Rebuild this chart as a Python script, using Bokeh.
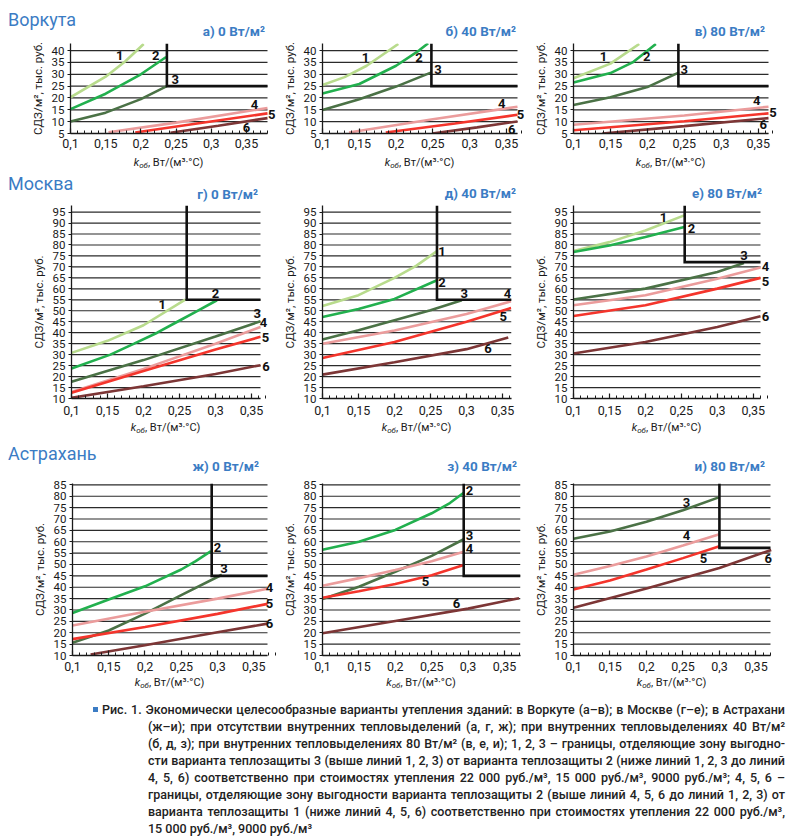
from bokeh.plotting import figure
from bokeh.models import Range1d, FixedTicker, CustomJSTickFormatter, Label, Div
from bokeh.layouts import column, row
from bokeh.embed import file_html
from bokeh.resources import INLINE

# ---------------- data ----------------
XTICKS = [0.1, 0.15, 0.2, 0.25, 0.3, 0.35]
YTICKS_VORKUTA = [5, 10, 15, 20, 25, 30, 35, 40]
YTICKS_MOSCOW = list(range(10, 100, 5))
YTICKS_ASTRAKHAN = list(range(10, 90, 5))

CITIES = ["Воркута", "Москва", "Астрахань"]
TITLES = ["а) 0 Вт/м²", "б) 40 Вт/м²", "в) 80 Вт/м²",
          "г) 0 Вт/м²", "д) 40 Вт/м²", "е) 80 Вт/м²",
          "ж) 0 Вт/м²", "з) 40 Вт/м²", "и) 80 Вт/м²"]

# Воркута, 0 Вт/м2
a_x = {1: [0.1, 0.15, 0.178, 0.204], 2: [0.1, 0.15, 0.2, 0.236], 3: [0.1, 0.15, 0.2, 0.237],
       4: [0.154, 0.25, 0.38], 5: [0.192, 0.28, 0.38], 6: [0.242, 0.31, 0.38]}
a_y = {1: [20.3, 29.0, 35.5, 42.8], 2: [15.3, 21.8, 30.0, 37.3], 3: [10.1, 13.8, 19.5, 25.0],
       4: [5.5, 9.6, 15.8], 5: [5.4, 9.2, 13.5], 6: [5.3, 8.3, 11.5]}
a_bound = (0.237, 25)
a_lab = {1: (0.17, 37.8), 2: (0.221, 37.8), 3: (0.249, 28), 4: (0.3615, 17.1), 5: (0.386, 13.2), 6: (0.35, 7.6)}

# Воркута, 40 Вт/м2
b_x = {1: [0.1, 0.13, 0.16, 0.203], 2: [0.1, 0.15, 0.2, 0.231, 0.2436], 3: [0.1, 0.15, 0.2, 0.248],
       4: [0.136, 0.25, 0.365], 5: [0.186, 0.28, 0.365], 6: [0.249, 0.31, 0.365]}
b_y = {1: [25.5, 28.8, 33.6, 42.8], 2: [21.9, 25.9, 33.6, 40.0, 43.1], 3: [14.9, 19.5, 24.8, 30.8],
       4: [5.4, 11.0, 16.3], 5: [5.4, 9.2, 12.9], 6: [5.0, 7.6, 10.1]}
b_bound = (0.248, 25)
b_lab = {1: (0.1585, 37.2), 2: (0.231, 37.2), 3: (0.257, 32.2), 4: (0.3435, 17.8), 5: (0.369, 13.2), 6: (0.357, 6.8)}

# Воркута, 80 Вт/м2
c_x = {1: [0.1, 0.15, 0.189], 2: [0.1, 0.15, 0.18, 0.2115], 3: [0.1, 0.15, 0.2, 0.243],
       4: [0.1, 0.25, 0.364], 5: [0.1, 0.25, 0.364], 6: [0.139, 0.25, 0.364]}
c_y = {1: [28.3, 34.5, 42.8], 2: [26.5, 30.5, 35.0, 42.8], 3: [17.0, 20.3, 24.6, 30.8],
       4: [8.7, 12.6, 16.3], 5: [6.4, 10.2, 13.5], 6: [5.0, 8.1, 11.5]}
c_bound = (0.242, 25)
c_lab = {1: (0.1406, 37.5), 2: (0.199, 37.5), 3: (0.25, 32.2), 4: (0.348, 18.8), 5: (0.37, 13.9), 6: (0.357, 8.7)}

# Москва, 0 Вт/м2
d_x = {1: [0.1, 0.15, 0.2, 0.258], 2: [0.1, 0.154, 0.187, 0.219, 0.247, 0.275, 0.302],
       3: [0.1, 0.2, 0.3, 0.3625], 4: [0.1, 0.2, 0.3, 0.3625], 5: [0.1, 0.2, 0.3, 0.3625], 6: [0.1, 0.2, 0.3, 0.3625]}
d_y = {1: [30.8, 36.3, 43.4, 55.1], 2: [23.7, 30.0, 35.0, 40.0, 45.0, 50.0, 54.8],
       3: [17.6, 27.5, 38.3, 45.2], 4: [13.0, 23.5, 35.0, 42.6], 5: [12.6, 22.5, 32.3, 38.1], 6: [10.3, 15.6, 21.2, 25.2]}
d_bound = (0.26, 55)
d_lab = {1: (0.226, 52.8), 2: (0.3, 57.8), 3: (0.358, 48.7), 4: (0.3667, 44.6), 5: (0.3694, 37.8), 6: (0.37, 24.7)}

# Москва, 40 Вт/м2
e_x = {1: [0.1, 0.15, 0.2, 0.23, 0.259], 2: [0.1, 0.15, 0.2, 0.259], 3: [0.1, 0.15, 0.2, 0.25, 0.2935],
       4: [0.1, 0.2, 0.3, 0.362], 5: [0.1, 0.2, 0.3, 0.362], 6: [0.1, 0.2, 0.3, 0.358]}
e_y = {1: [52.2, 57.1, 65.0, 70.5, 77.2], 2: [47.2, 50.8, 55.4, 63.9], 3: [36.9, 41.1, 45.7, 50.2, 54.8],
       4: [35.0, 41.0, 48.5, 54.3], 5: [28.5, 35.8, 45.0, 51.3], 6: [20.9, 26.5, 32.5, 37.8]}
e_bound = (0.259, 55)
e_lab = {1: (0.266, 77), 2: (0.266, 62.8), 3: (0.297, 57.8), 4: (0.357, 57.8), 5: (0.351, 47.6), 6: (0.33, 32.8)}

# Москва, 80 Вт/м2
f_x = {1: [0.1, 0.15, 0.2, 0.254], 2: [0.1, 0.15, 0.2, 0.254], 3: [0.1, 0.2, 0.3, 0.337],
       4: [0.1, 0.2, 0.3, 0.36], 5: [0.1, 0.2, 0.3, 0.36], 6: [0.1, 0.2, 0.3, 0.36]}
f_y = {1: [77.2, 81.3, 86.6, 93.5], 2: [76.8, 79.8, 83.6, 88.2], 3: [55.1, 60.1, 67.7, 71.8],
       4: [52.5, 57.1, 64.6, 69.7], 5: [47.6, 52.5, 60.1, 65.0], 6: [30.5, 35.8, 42.6, 47.5]}
f_bound = (0.2546, 72.2)
f_lab = {1: (0.225, 92.7), 2: (0.264, 87.4), 3: (0.337, 75.3), 4: (0.367, 70.3), 5: (0.367, 63.4), 6: (0.367, 47.5)}

# Астрахань, 0 Вт/м2
g_x = {2: [0.1, 0.15, 0.2, 0.25, 0.27, 0.291], 3: [0.1, 0.15, 0.2, 0.25, 0.306],
       4: [0.1, 0.2, 0.3, 0.369], 5: [0.1, 0.2, 0.3, 0.369], 6: [0.125, 0.2, 0.3, 0.369]}
g_y = {2: [28.7, 34.6, 40.4, 47.8, 51.5, 55.9], 3: [15.6, 21.0, 28.4, 36.5, 45.5],
       4: [23.2, 29.2, 35.0, 39.3], 5: [17.2, 22.5, 28.3, 32.7], 6: [10.4, 14.5, 20.2, 24.0]}
g_bound = (0.292, 45)
g_lab = {2: (0.3, 57.6), 3: (0.309, 48.4), 4: (0.3716, 40.0), 5: (0.3716, 32.7), 6: (0.3716, 24.2)}

# Астрахань, 40 Вт/м2
h_x = {2: [0.1, 0.15, 0.2, 0.25, 0.275, 0.294], 3: [0.1, 0.15, 0.2, 0.25, 0.294],
       4: [0.1, 0.15, 0.2, 0.25, 0.294], 5: [0.1, 0.15, 0.2, 0.25, 0.294], 6: [0.1, 0.2, 0.3, 0.37]}
h_y = {2: [56.5, 60.0, 65.2, 72.5, 77.0, 81.5], 3: [34.8, 40.2, 46.8, 53.8, 61.1],
       4: [40.7, 44.0, 47.6, 51.4, 55.6], 5: [35.4, 38.2, 41.4, 45.3, 49.8], 6: [19.8, 25.2, 30.6, 35.2]}
h_bound = (0.294, 45)
h_lab = {2: (0.302, 82.5), 3: (0.302, 62.8), 4: (0.302, 57.0), 5: (0.2415, 42.4), 6: (0.284, 32.9)}

# Астрахань, 80 Вт/м2
i_x = {3: [0.1, 0.15, 0.2, 0.25, 0.3], 4: [0.1, 0.15, 0.2, 0.25, 0.3], 5: [0.1, 0.15, 0.2, 0.25, 0.3],
       6: [0.1, 0.2, 0.3, 0.371]}
i_y = {3: [61.3, 64.5, 68.8, 73.8, 79.6], 4: [45.5, 49.3, 53.5, 58.3, 63.3], 5: [39.0, 43.0, 47.8, 52.8, 58.0],
       6: [31.0, 39.5, 48.5, 56.4]}
i_bound = (0.3, 57.3)
i_lab = {3: (0.255, 77.4), 4: (0.255, 62.7), 5: (0.278, 52.5), 6: (0.367, 52.8)}

CAPTION_LINES = [
    "Рис. 1. Экономически целесообразные варианты утепления зданий: в Воркуте (а–в); в Москве (г–е); в Астрахани",
    "(ж–и); при отсутствии внутренних тепловыделений (а, г, ж); при внутренних тепловыделениях 40 Вт/м²",
    "(б, д, з); при внутренних тепловыделениях 80 Вт/м² (в, е, и); 1, 2, 3 – границы, отделяющие зону выгодно-",
    "сти варианта теплозащиты 3 (выше линий 1, 2, 3) от варианта теплозащиты 2 (ниже линий 1, 2, 3 до линий",
    "4, 5, 6) соответственно при стоимостях утепления 22 000 руб./м³, 15 000 руб./м³, 9000 руб./м³; 4, 5, 6 –",
    "границы, отделяющие зону выгодности варианта теплозащиты 2 (выше линий 4, 5, 6 до линий 1, 2, 3) от",
    "варианта теплозащиты 1 (ниже линий 4, 5, 6) соответственно при стоимостях утепления 22 000 руб./м³,",
    "15 000 руб./м³, 9000 руб./м³",
]

# ---------------- styling ----------------
FONT = "Roboto"
BLUE = "#3b7cc4"
INK = "#1a1a1a"
COLORS = {1: "#b8db8c", 2: "#22b04e", 3: "#4b7246", 4: "#eb9c9c", 5: "#f4352c", 6: "#7d3636"}
MINOR = [round(0.1 + 0.01 * i, 2) for i in range(29)]


def make_panel(xs, ys, bound, labs, x_vis, y_rng, y_ticks, W, mbl, fw, ext, vgeom, standoff):
    mbt, fh, mbb = vgeom
    mbr = W - mbl - fw - ext
    x_end = x_vis + ext * (x_vis - 0.1) / fw
    H = mbt + fh + mbb
    p = figure(width=W, height=H, x_range=Range1d(0.1, x_end), y_range=Range1d(*y_rng),
               output_backend="svg", toolbar_location=None,
               min_border_left=mbl, min_border_right=mbr, min_border_top=mbt, min_border_bottom=mbb,
               background_fill_color="white", border_fill_color="white", outline_line_color=None)
    p.xgrid.visible = False
    p.ygrid.visible = False
    yt = FixedTicker(ticks=y_ticks)
    p.yaxis.ticker = yt
    p.xaxis.ticker = FixedTicker(ticks=XTICKS, minor_ticks=MINOR)
    p.xaxis.bounds = (0.1, x_vis)
    p.xaxis.formatter = CustomJSTickFormatter(
        code="return tick.toFixed(2).replace(/0$/, '').replace('.', ',');")
    for ax in (p.xaxis, p.yaxis):
        ax.axis_line_color = INK
        ax.axis_line_width = 1.3
        ax.major_tick_line_color = INK
        ax.major_tick_line_width = 1.2
        ax.major_label_text_font = FONT
        ax.major_label_text_color = INK
    p.xaxis.major_label_text_font_size = "12.5px"
    p.yaxis.major_label_text_font_size = "11.5px"
    p.xaxis.major_tick_in = 5
    p.xaxis.major_tick_out = 0
    p.xaxis.minor_tick_in = 3
    p.xaxis.minor_tick_out = 0
    p.xaxis.minor_tick_line_color = INK
    p.xaxis.minor_tick_line_width = 1.0
    p.xaxis.major_label_standoff = standoff
    p.yaxis.major_tick_in = 0
    p.yaxis.major_tick_out = 3
    p.yaxis.minor_tick_line_color = None
    p.yaxis.major_label_standoff = 3
    p.yaxis.axis_label = "СДЗ/м², тыс. руб."
    p.yaxis.axis_label_text_font = FONT
    p.yaxis.axis_label_text_font_size = "11.5px"
    p.yaxis.axis_label_text_font_style = "normal"
    p.yaxis.axis_label_text_color = INK
    p.yaxis.axis_label_standoff = 4

    # horizontal grid lines, stopping at the visible end of the x axis
    p.segment(x0=[0.1] * len(y_ticks), x1=[x_vis] * len(y_ticks), y0=y_ticks, y1=y_ticks,
              line_color="#2b2b2b", line_width=1.2)

    for k in sorted(xs):
        p.line(xs[k], ys[k], line_color=COLORS[k], line_width=2.6)
    bx, by = bound
    p.line([bx, bx, x_vis], [y_rng[1], by, by], line_color="#111111", line_width=2.6, line_join="miter")

    for k, (lx, ly) in labs.items():
        p.add_layout(Label(x=lx, y=ly, text=str(k), text_font=FONT, text_font_style="bold",
                           text_font_size="13px", text_color="#111111",
                           text_align="center", text_baseline="middle"))
    return p


def header_div(W, H, title, title_top, title_right, city=None, city_top=0):
    html = '<div style="position:relative;width:%dpx;height:%dpx;font-family:Roboto,sans-serif;">' % (W, H)
    if city is not None:
        html += ('<span style="position:absolute;left:0px;top:%.1fpx;font-size:18px;line-height:1;'
                 'color:%s;white-space:nowrap">%s</span>' % (city_top, BLUE, city))
    html += ('<span style="position:absolute;right:%dpx;top:%.1fpx;font-size:13.5px;font-weight:bold;'
             'line-height:1;color:%s;white-space:nowrap">%s</span>' % (title_right, title_top, BLUE, title))
    html += '</div>'
    return Div(text=html, width=W, height=H, margin=0)


def xlabel_div(W, H, center, top):
    html = ('<div style="position:relative;width:%dpx;height:%dpx;">'
            '<span style="position:absolute;left:%.1fpx;top:%.1fpx;transform:translateX(-50%%);'
            'font-family:Roboto,sans-serif;font-size:11px;line-height:1;color:%s;white-space:nowrap">'
            '<i>k</i><sub style="font-size:8px;line-height:0;vertical-align:-2px"><i>об</i></sub>'
            ', Вт/(м³·°С)</span></div>' % (W, H, center, top, INK))
    return Div(text=html, width=W, height=H, margin=0)


ROW1_V = (3, 90, 22)
ROW2_V = (3, 193, 22)
ROW3_V = (9, 172, 21)

pa = make_panel(a_x, a_y, a_bound, a_lab, 0.38, (5, 43), YTICKS_VORKUTA, 268, 62, 197, 9, ROW1_V, 5)
pb = make_panel(b_x, b_y, b_bound, b_lab, 0.365, (5, 43), YTICKS_VORKUTA, 252, 46, 195, 7, ROW1_V, 5)
pc = make_panel(c_x, c_y, c_bound, c_lab, 0.364, (5, 43), YTICKS_VORKUTA, 264, 45, 195, 9, ROW1_V, 5)

pd = make_panel(d_x, d_y, d_bound, d_lab, 0.3625, (10, 98), YTICKS_MOSCOW, 268, 63, 189, 10, ROW2_V, 7)
pe = make_panel(e_x, e_y, e_bound, e_lab, 0.3625, (10, 98), YTICKS_MOSCOW, 252, 46, 189, 0, ROW2_V, 7)
pf = make_panel(f_x, f_y, f_bound, f_lab, 0.36, (10, 98), YTICKS_MOSCOW, 264, 45, 187, 10, ROW2_V, 7)

pg = make_panel(g_x, g_y, g_bound, g_lab, 0.369, (10, 85.6), YTICKS_ASTRAKHAN, 268, 64, 195, 8, ROW3_V, 6)
ph = make_panel(h_x, h_y, h_bound, h_lab, 0.372, (10, 85.6), YTICKS_ASTRAKHAN, 252, 46, 198, 0, ROW3_V, 6)
pi = make_panel(i_x, i_y, i_bound, i_lab, 0.37, (10, 85.6), YTICKS_ASTRAKHAN, 264, 45, 197, 3, ROW3_V, 6)

# headers (city names and panel titles)
h1 = row(header_div(268, 32, TITLES[0], 16.6, 11, CITIES[0], 2.8),
         header_div(252, 32, TITLES[1], 16.6, 12),
         header_div(264, 32, TITLES[2], 16.6, 27))
h2 = row(header_div(268, 32, TITLES[3], 17.6, 18, CITIES[1], 4.8),
         header_div(252, 32, TITLES[4], 16.6, 12),
         header_div(264, 32, TITLES[5], 16.6, 30))
h3 = row(header_div(268, 37, TITLES[6], 22.6, 17, CITIES[2], 7.8),
         header_div(252, 37, TITLES[7], 22.6, 11),
         header_div(264, 37, TITLES[8], 22.6, 27))

# x-axis labels below each panel
x1 = row(xlabel_div(268, 15, 62 + 197 / 2, 1.7), xlabel_div(252, 15, 46 + 195 / 2, 1.7),
         xlabel_div(264, 15, 45 + 195 / 2, 1.7))
x2 = row(xlabel_div(268, 17, 63 + 189 / 2, 1.7), xlabel_div(252, 17, 46 + 189 / 2, 1.7),
         xlabel_div(264, 17, 45 + 187 / 2, 1.7))
x3 = row(xlabel_div(268, 19, 64 + 195 / 2, 0.7), xlabel_div(252, 19, 46 + 198 / 2, 0.7),
         xlabel_div(264, 19, 45 + 197 / 2, 0.7))

# caption
parts = []
n = len(CAPTION_LINES)
for idx, line in enumerate(CAPTION_LINES):
    just = "justify" if idx < n - 1 else "left"
    if idx == 0:
        bullet = ('<span style="display:inline-block;width:5px;height:5px;background:%s;'
                  'margin-right:4px;vertical-align:2px"></span>' % BLUE)
        parts.append('<div style="margin-left:85px;width:692px;height:17px;line-height:17px;'
                     'text-align:%s;text-align-last:%s;white-space:nowrap">%s%s</div>'
                     % (just, just, bullet, line))
    else:
        parts.append('<div style="margin-left:140px;width:637px;height:17px;line-height:17px;'
                     'text-align:%s;text-align-last:%s;white-space:nowrap">%s</div>' % (just, just, line))
caption_html = ('<div style="font-family:Roboto,sans-serif;font-size:12.5px;font-weight:500;color:#222;'
                'line-height:17px;padding-top:5.5px;">' + "".join(parts) + "</div>")
caption = Div(text=caption_html, width=784, height=127, margin=0, styles={"overflow": "visible"})

layout = column(h1, row(pa, pb, pc), x1,
                h2, row(pd, pe, pf), x2,
                h3, row(pg, ph, pi), x3,
                caption, margin=(8, 0, 0, 8))

open("out.html", "w").write(file_html(layout, INLINE))
